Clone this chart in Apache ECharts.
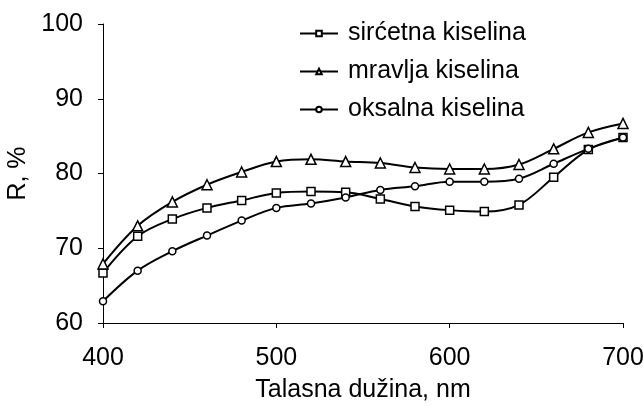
<!DOCTYPE html>
<html>
<head>
<meta charset="utf-8">
<script src="https://cdn.jsdelivr.net/npm/echarts@6/dist/echarts.min.js"></script>
<style>html,body{margin:0;padding:0;background:#fff}#c{width:643px;height:406px}</style>
</head>
<body>
<div id="c"></div>
<script>
const wavelengths = [400,420,440,460,480,500,520,540,560,580,600,620,640,660,680,700];
const sircetna = [66.7,71.6,73.9,75.4,76.4,77.4,77.6,77.5,76.6,75.6,75.1,74.9,75.8,79.5,83.2,84.8];
const mravlja  = [67.9,73.0,76.2,78.5,80.2,81.6,81.9,81.6,81.4,80.8,80.6,80.6,81.2,83.3,85.5,86.7];
const oksalna  = [62.9,67.0,69.6,71.7,73.7,75.4,76.0,76.8,77.8,78.3,78.9,78.9,79.3,81.3,83.3,84.8];
const seriesNames = ['sirćetna kiselina','mravlja kiselina','oksalna kiselina'];
const symbols = ['rect','triangle','circle'];
const symbolSizes = [8,10,7];
const xTitle = 'Talasna dužina, nm';
const yTitle = 'R, %';

const pair = (ys) => wavelengths.map((x,i)=>[x, ys[i]]);
const FONT = 'Liberation Sans';
const FS = 25;
const chart = echarts.init(document.getElementById('c'), null, {renderer:'canvas'});
const mk = (name, ys, i) => ({
  name, type:'line', data: pair(ys), smooth:0.35,
  symbol: symbols[i], symbolSize: symbolSizes[i],
  showAllSymbol:true,
  lineStyle:{color:'#000', width:2},
  itemStyle:{color:'#fff', borderColor:'#000', borderWidth:1.5},
  emphasis:{disabled:true}, animation:false
});
chart.setOption({
  animation:false,
  grid:{left:103, right:20, top:24, bottom:83, containLabel:false, outerBoundsMode:'none'},
  legend:{
    orient:'vertical', left:294, top:16, itemGap:13,
    itemWidth:38, itemHeight:7,
    textStyle:{fontFamily:FONT, fontSize:FS, color:'#000', padding:[0,0,0,5]},
    data: seriesNames
  },
  xAxis:{
    type:'value', min:400, max:700, interval:100,
    name:xTitle, nameLocation:'middle', nameGap:55,
    nameTextStyle:{fontFamily:FONT, fontSize:FS, color:'#000'},
    axisLine:{lineStyle:{color:'#000', width:1}},
    axisTick:{show:true, inside:false, length:5, lineStyle:{color:'#000'}},
    axisLabel:{fontFamily:FONT, fontSize:FS, color:'#000', margin:23},
    splitLine:{show:false}
  },
  yAxis:{
    type:'value', min:60, max:100, interval:10,
    name:yTitle, nameLocation:'middle', nameGap:62,
    nameTextStyle:{fontFamily:FONT, fontSize:FS, color:'#000'},
    axisLine:{show:true, lineStyle:{color:'#000', width:1}},
    axisTick:{show:true, inside:false, length:5, lineStyle:{color:'#000'}},
    axisLabel:{fontFamily:FONT, fontSize:FS, color:'#000', margin:20},
    splitLine:{show:false}
  },
  series:[mk(seriesNames[0], sircetna, 0), mk(seriesNames[1], mravlja, 1), mk(seriesNames[2], oksalna, 2)]
});
</script>
</body>
</html>
